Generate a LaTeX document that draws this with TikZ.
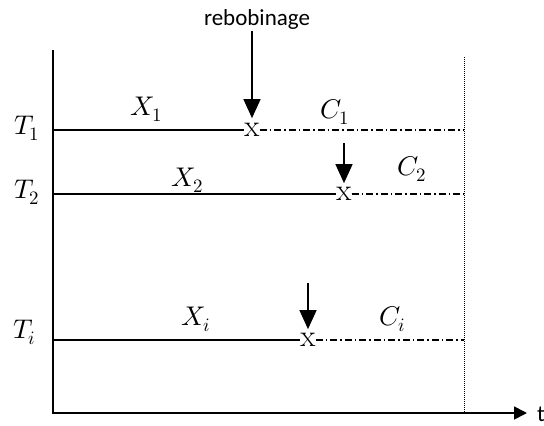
\documentclass[tikz,border=0pt]{standalone}
\usepackage{unicode-math}
\setmathfont{Latin Modern Math}
\newfontfamily\calib{Carlito}
\usetikzlibrary{arrows.meta}
\begin{document}
\begin{tikzpicture}[x=1pt,y=-1pt,
  lbl/.style={anchor=base west, inner sep=0pt, font=\fontsize{27}{31}\selectfont},
  xmark/.style={inner sep=0pt, font=\fontsize{31}{34}\selectfont},
  axisline/.style={line width=1.7pt},
  tline/.style={line width=1.5pt},
  cline/.style={line width=1.3pt, dash pattern=on 7pt off 3pt on 1.5pt off 3pt},
  arr/.style={line width=1.3pt, -{Triangle[width=17pt,length=19pt]}},
  txt/.style={inner sep=0pt, font=\calib\fontsize{23}{28}\selectfont}]
\useasboundingbox (0,0) rectangle (544,426);
% axes
\coordinate (Ytop) at (53,50);
\coordinate (O) at (53,413);
\coordinate (Xend) at (527,413);
\draw[axisline, -{Triangle[width=13pt,length=13pt]}] (Ytop) -- (O) -- (Xend);
\node[txt, anchor=base west] (t) at (537,421) {t};
% dotted end line
\coordinate (Dtop) at (464,57);
\coordinate (Dbot) at (464,413);
\draw[line width=1pt, dash pattern=on 1pt off 1pt] (Dtop) -- (Dbot);
% rows
\coordinate (L1) at (53,130);  \coordinate (R1) at (464,130);
\coordinate (L2) at (53,194);  \coordinate (R2) at (464,194);
\coordinate (L3) at (53,340);  \coordinate (R3) at (464,340);
\node[xmark] (m1) at (252,130) {x};
\node[xmark] (m2) at (344,194) {x};
\node[xmark] (m3) at (308,340) {x};
\draw[tline] (L1) -- (m1.west);  \draw[cline] (m1.east) -- (R1);
\draw[tline] (L2) -- (m2.west);  \draw[cline] (m2.east) -- (R2);
\draw[tline] (L3) -- (m3.west);  \draw[cline] (m3.east) -- (R3);
% labels
\node[lbl] (T1) at (14,134) {$T_1$};
\node[lbl] (T2) at (14,198) {$T_2$};
\node[lbl] (Ti) at (13,338) {$T_i$};
\node[lbl] (X1) at (130,115) {$X_1$};
\node[lbl] (X2) at (171,186) {$X_2$};
\node[lbl] (Xi) at (181,325) {$X_i$};
\node[lbl] (C1) at (320,118) {$C_1$};
\node[lbl] (C2) at (397,175) {$C_2$};
\node[lbl] (Ci) at (379,325) {$C_i$};
% arrows
\node[txt, anchor=base] (reb) at (257,25) {rebobinage};
\coordinate (a1) at (252,31);
\coordinate (a2) at (344,143);
\coordinate (a3) at (308,283);
\draw[arr, shorten >=5pt] (a1) -- (m1.north);
\draw[arr, shorten >=4pt] (a2) -- (m2.north);
\draw[arr, shorten >=4pt] (a3) -- (m3.north);
\end{tikzpicture}
\end{document}
